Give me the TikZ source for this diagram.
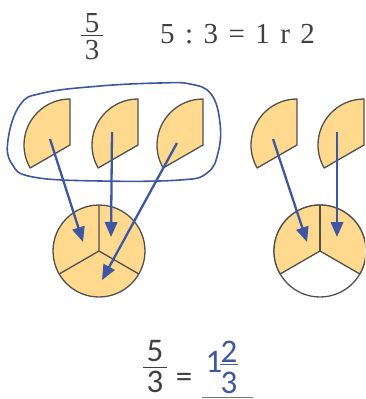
\documentclass[tikz,border=0pt]{standalone}
\usepackage{fontspec}
\setmainfont{Liberation Serif}
\newfontfamily\calibrifont{Carlito}
\usepackage{tikz}
\usetikzlibrary{arrows.meta,calc}
\definecolor{piececolor}{RGB}{254,217,142}
\definecolor{edgecolor}{RGB}{80,80,80}
\definecolor{myblue}{RGB}{62,86,163}
\definecolor{textgray}{RGB}{64,64,64}

\begin{document}
\begin{tikzpicture}[x=1pt,y=1pt,
		piece/.style={draw=edgecolor,line width=1.3pt,fill=piececolor,line join=round},
		edge/.style={edgecolor,line width=1.3pt},
		moveto/.style={myblue,line width=2.3pt,-{Triangle[length=15pt,width=12.5pt]}},
		serifnum/.style={inner sep=0pt,text=textgray,font=\fontsize{29}{34}\selectfont},
		sansnum/.style={inner sep=0pt,text=textgray,font=\calibrifont\fontsize{33}{38}\selectfont},
		fracbar/.style={textgray,line width=1pt}]
			\pgfmathsetmacro{\r}{46}
			\useasboundingbox (0,0) rectangle (365,-399);
			\clip (0,0) rectangle (365,-399);
			% the five thirds
			\foreach \x in {70,138,203,297,364}
				\draw[piece] (\x,-145) -- ++(90:\r) arc[start angle=90, end angle=210, radius=\r] -- cycle;
			\draw[myblue,line width=1.6pt] plot[smooth cycle,tension=0.7] coordinates {(8,-140) (20,-105) (43,-93) (100,-86) (160,-83) (190,-84) (211,-94) (220,-123) (218,-153) (207,-173) (180,-180) (100,-181) (33,-177) (12,-164)};
			% wholes
			\coordinate (left) at (99,-251);
			\coordinate (right) at (320,-251);
			\draw[piece] (left) circle[radius=\r];
			\draw[edge] (left) -- ++(90:\r) (left) -- ++(210:\r) (left) -- ++(330:\r);
			\draw[piece,fill=white] (right) circle[radius=\r];
			\draw[piece] (right) -- ++(330:\r) arc[start angle=-30, end angle=210, radius=\r] -- cycle;
			\draw[edge] (right) -- ++(90:\r);
			% arrows
			\coordinate (s1) at (50,-139);  \coordinate (e1) at (83,-242);
			\coordinate (s2) at (112,-132); \coordinate (e2) at (111,-237);
			\coordinate (s3) at (177,-143); \coordinate (e3) at (102,-280);
			\coordinate (s4) at (273,-139); \coordinate (e4) at (307,-242);
			\coordinate (s5) at (337,-132); \coordinate (e5) at (337,-237);
			\foreach \i in {1,...,5}
				\draw[moveto] (s\i) -- (e\i);
			% top line
			\node[serifnum] (topnum) at (92,-23) {5};
			\node[serifnum] (topden) at (92,-50) {3};
			\draw[fracbar] ($(topnum)!0.45!(topden)+(-11,0)$) -- ++(22,0);
			\node[serifnum,anchor=base] (division) at (237.5,-43) {5\hspace{0.36em}:\hspace{0.36em}3\hspace{0.36em}=\hspace{0.36em}1\hspace{0.36em}r\hspace{0.36em}2};
			% bottom line
			\node[sansnum] (botnum) at (155,-351.5) {5};
			\node[sansnum] (botden) at (155,-381.5) {3};
			\draw[fracbar] ($(botnum)!0.52!(botden)+(-12,0)$) -- ++(24,0);
			\node[sansnum] (equals) at (184,-380) {=};
			\node[sansnum,text=myblue] (whole) at (214,-361.5) {1};
			\node[sansnum,text=myblue] (fracnum) at (229,-351.5) {2};
			\node[sansnum,text=myblue] (fracden) at (229,-383) {3};
			\draw[myblue,line width=1pt] ($(fracnum)!0.41!(fracden)+(-9,0)$) -- ++(18,0);
			\draw[textgray!70,line width=1.2pt] (202,-397.5) -- (253,-397.5);
\end{tikzpicture}
\end{document}
